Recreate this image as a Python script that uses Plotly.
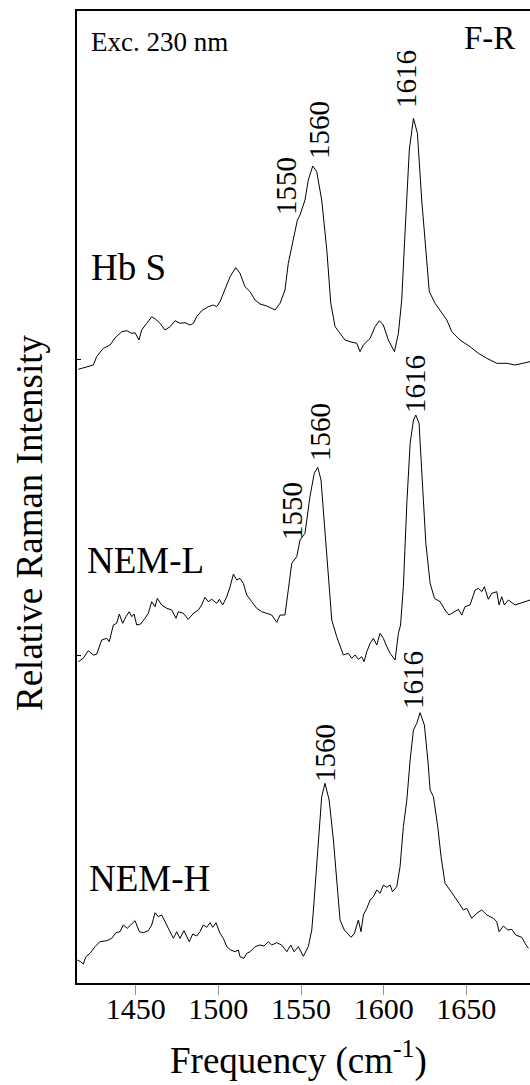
import plotly.graph_objects as go

# ---------------- data ----------------
freq_hbs = [1415.3, 1420.4, 1424.4, 1426.4, 1430.4, 1434.5, 1437.5, 1441.5, 1444.6, 1447.6,
            1449.6, 1452.0, 1453.6, 1456.7, 1459.7, 1462.7, 1464.7, 1467.7, 1470.8, 1473.8,
            1476.8, 1479.8, 1482.9, 1484.9, 1486.9, 1489.9, 1493.9, 1497.0, 1499.0, 1501.0,
            1504.0, 1507.1, 1510.5, 1513.1, 1516.1, 1519.2, 1522.2, 1525.2, 1529.3, 1534.3,
            1537.3, 1540.3, 1542.3, 1545.4, 1547.8, 1549.4, 1552.4, 1554.4, 1557.1, 1559.5,
            1562.5, 1565.6, 1568.0, 1570.6, 1573.6, 1576.6, 1579.7, 1583.7, 1585.7, 1587.7,
            1591.8, 1594.8, 1597.4, 1599.8, 1602.8, 1606.5, 1608.9, 1610.9, 1612.9, 1615.5,
            1618.0, 1620.4, 1623.0, 1626.1, 1627.6, 1631.1, 1635.1, 1638.2, 1641.2, 1646.2,
            1652.2, 1657.3, 1662.4, 1668.4, 1674.5, 1679.5, 1688.5]
int_hbs = [0.7, 3.3, 5.0, 13.3, 21.7, 25.0, 32.0, 38.3, 39.3, 36.7,
           37.3, 30.0, 40.0, 46.7, 53.3, 50.0, 46.7, 40.0, 43.3, 49.3,
           46.7, 47.3, 45.0, 46.7, 53.3, 59.3, 63.3, 65.0, 63.3, 68.3,
           80.0, 93.3, 102.3, 96.7, 83.3, 78.3, 70.0, 66.0, 64.0, 60.0,
           66.7, 80.0, 106.7, 130.0, 150.0, 155.0, 170.0, 190.0, 204.0, 198.3,
           170.0, 120.0, 66.7, 43.3, 36.7, 30.0, 28.3, 26.7, 18.3, 25.0,
           31.7, 43.3, 49.3, 45.0, 30.0, 18.3, 36.7, 70.0, 136.7, 220.0,
           251.7, 236.7, 170.0, 103.3, 78.3, 66.7, 56.7, 50.0, 38.3, 30.0,
           23.3, 16.7, 11.7, 6.7, 6.7, 5.0, 8.3]

freq_neml = [1415.3, 1418.3, 1421.3, 1424.4, 1426.4, 1429.4, 1432.5, 1434.0, 1436.5, 1438.5,
             1440.1, 1442.1, 1444.1, 1446.1, 1447.6, 1449.0, 1450.6, 1453.0, 1455.6, 1457.6,
             1459.7, 1461.7, 1463.1, 1465.7, 1468.8, 1471.8, 1474.4, 1475.8, 1478.8, 1481.8,
             1484.9, 1487.9, 1489.9, 1491.9, 1493.9, 1496.0, 1499.0, 1500.6, 1502.6, 1505.1,
             1507.1, 1509.1, 1511.1, 1513.1, 1515.1, 1517.2, 1520.2, 1523.2, 1526.2, 1529.3,
             1532.3, 1535.3, 1537.3, 1540.3, 1542.3, 1544.4, 1547.4, 1549.4, 1552.4, 1555.4,
             1558.0, 1560.1, 1562.1, 1564.5, 1566.5, 1568.6, 1571.6, 1575.6, 1578.6, 1580.7,
             1582.7, 1584.7, 1586.7, 1588.1, 1589.8, 1591.8, 1593.8, 1595.8, 1597.8, 1599.8,
             1601.9, 1603.9, 1606.9, 1608.9, 1610.2, 1611.9, 1614.0, 1616.0, 1618.0, 1619.4,
             1621.4, 1623.0, 1625.5, 1628.1, 1630.7, 1634.1, 1637.1, 1639.5, 1642.7, 1645.2,
             1647.2, 1649.2, 1652.2, 1655.3, 1657.3, 1659.3, 1660.9, 1663.3, 1665.4, 1668.4,
             1669.8, 1671.4, 1673.0, 1675.4, 1679.5, 1688.5]
int_neml = [0.3, 3.7, 11.3, 7.0, 7.7, 22.0, 23.7, 20.3, 37.0, 38.7,
            48.0, 38.7, 45.3, 50.3, 45.3, 48.0, 37.0, 38.0, 43.7, 48.7,
            60.3, 55.3, 63.7, 57.0, 53.7, 52.0, 43.7, 50.3, 48.7, 42.7,
            48.7, 52.0, 57.0, 64.7, 60.3, 62.7, 58.7, 62.7, 57.0, 65.3,
            75.3, 88.0, 82.0, 83.7, 78.7, 67.0, 60.3, 53.7, 50.3, 48.7,
            47.0, 39.7, 47.0, 47.0, 72.0, 98.7, 105.3, 122.0, 128.7, 165.3,
            188.7, 194.7, 182.0, 132.0, 85.3, 42.0, 25.3, 7.0, 8.7, 3.7,
            7.0, 2.7, 5.3, 0.3, 10.3, 18.7, 23.7, 17.0, 28.7, 23.7,
            15.3, 8.7, 2.0, 28.7, 37.0, 75.3, 158.7, 218.7, 242.0, 247.0,
            238.7, 192.0, 118.7, 78.7, 63.7, 60.3, 52.0, 47.0, 50.3, 52.7,
            47.0, 55.3, 57.0, 72.0, 73.7, 70.3, 75.3, 62.7, 68.7, 70.3,
            57.0, 65.3, 57.0, 62.0, 57.0, 62.0]

freq_nemh = [1414.7, 1416.7, 1418.3, 1419.9, 1422.4, 1425.4, 1428.4, 1432.5, 1435.5, 1438.1,
             1440.5, 1442.5, 1444.9, 1447.6, 1449.6, 1452.2, 1454.6, 1457.6, 1459.7, 1461.7,
             1463.7, 1465.7, 1468.3, 1470.8, 1472.8, 1474.8, 1476.8, 1479.2, 1480.9, 1482.4,
             1484.5, 1486.9, 1488.9, 1490.9, 1493.0, 1495.0, 1496.6, 1498.6, 1501.0, 1503.0,
             1505.1, 1507.5, 1510.1, 1512.1, 1513.1, 1515.5, 1517.2, 1519.2, 1522.2, 1525.2,
             1527.6, 1530.2, 1532.3, 1535.3, 1538.3, 1541.4, 1543.8, 1545.8, 1548.4, 1551.4,
             1554.4, 1556.5, 1557.5, 1560.5, 1562.5, 1564.5, 1567.0, 1569.6, 1571.6, 1573.6,
             1576.2, 1578.2, 1580.3, 1582.3, 1584.7, 1586.3, 1587.7, 1589.8, 1591.8, 1593.8,
             1595.8, 1597.8, 1599.8, 1601.9, 1603.9, 1605.3, 1607.9, 1609.9, 1611.9, 1614.0,
             1616.0, 1618.0, 1620.0, 1622.0, 1624.6, 1626.7, 1628.1, 1630.1, 1632.7, 1634.7,
             1637.1, 1640.1, 1643.2, 1645.6, 1648.2, 1650.2, 1653.3, 1656.3, 1659.3, 1662.4,
             1666.4, 1668.4, 1669.8, 1672.4, 1675.1, 1677.5, 1679.9, 1681.9, 1683.5, 1685.5,
             1687.5]
int_nemh = [2.0, 0.3, -2.0, 5.3, 8.7, 15.3, 20.3, 21.3, 23.7, 29.3,
            30.3, 37.0, 33.7, 38.7, 41.3, 30.3, 29.3, 31.3, 37.0, 49.3,
            45.3, 47.0, 38.7, 30.3, 23.7, 30.3, 23.7, 31.3, 26.0, 20.3,
            28.0, 26.0, 30.3, 37.0, 34.7, 39.3, 34.7, 39.3, 28.7, 23.7,
            15.3, 12.0, 10.3, 12.0, 5.3, 3.7, 8.7, 10.3, 15.3, 17.0,
            16.0, 20.3, 17.0, 19.3, 17.0, 10.3, 17.0, 10.3, 15.3, 5.7,
            15.3, 32.0, 52.0, 122.0, 165.3, 178.7, 162.0, 122.0, 85.3, 42.0,
            32.0, 28.7, 24.7, 28.7, 42.0, 30.3, 47.0, 53.7, 62.0, 65.3,
            72.0, 68.7, 77.0, 74.7, 77.0, 70.3, 75.3, 95.3, 135.3, 162.0,
            202.0, 232.0, 238.7, 249.3, 237.0, 202.0, 172.0, 165.3, 135.3, 105.3,
            78.7, 72.0, 63.7, 58.7, 52.0, 53.7, 43.7, 48.7, 52.0, 47.0,
            43.7, 40.3, 30.3, 36.0, 32.0, 32.7, 27.0, 25.3, 24.7, 18.7,
            13.7]

sample_names = ["Hb S", "NEM-L", "NEM-H"]
offsets = [613, 321, 21]          # vertical stacking offsets (arbitrary units)
x_ticks = [1450, 1500, 1550, 1600, 1650]
x_range = [1414.5, 1688.5]
y_range = [0, 972]

peak_labels = [
    ("Hb S", ["1550", "1560", "1616"]),
    ("NEM-L", ["1550", "1560", "1616"]),
    ("NEM-H", ["1560", "1616"]),
]

# ---------------- layout helpers ----------------
W, H = 530, 1085
ML, MR, MT, MB = 77, 0, 11, 102
PW, PH = W - ML - MR, H - MT - MB


def px(xp):
    return (xp - ML) / PW


def py(yp):
    return (H - MB - yp) / PH


FONT = "Liberation Serif"

fig = go.Figure()
series = [(freq_hbs, int_hbs), (freq_neml, int_neml), (freq_nemh, int_nemh)]
for (fx, iy), off, name in zip(series, offsets, sample_names):
    fig.add_trace(go.Scatter(
        x=fx, y=[v + off for v in iy], mode="lines", name=name,
        line=dict(color="black", width=1), showlegend=False, hoverinfo="skip"))

ann = []
# sample labels
name_pos = {"Hb S": (89, 267), "NEM-L": (85, 560), "NEM-H": (87, 878)}
for n in sample_names:
    xp, yp = name_pos[n]
    ann.append(dict(text=n, x=px(xp), y=py(yp), xref="paper", yref="paper",
                    xanchor="left", yanchor="middle", showarrow=False,
                    font=dict(family=FONT, size=37, color="black")))

# peak labels (rotated)
peak_pos = {
    ("Hb S", "1550"): (286, 186), ("Hb S", "1560"): (319, 130), ("Hb S", "1616"): (406, 79),
    ("NEM-L", "1550"): (292, 511), ("NEM-L", "1560"): (320, 432), ("NEM-L", "1616"): (415, 384),
    ("NEM-H", "1560"): (325, 753), ("NEM-H", "1616"): (413, 680),
}
for n, labs in peak_labels:
    for lab in labs:
        xp, yp = peak_pos[(n, lab)]
        ann.append(dict(text=lab, x=px(xp), y=py(yp), xref="paper", yref="paper",
                        xanchor="center", yanchor="middle", textangle=-90, showarrow=False,
                        font=dict(family=FONT, size=29, color="black")))

ann.append(dict(text="Exc. 230 nm", x=px(89), y=py(42), xref="paper", yref="paper",
                xanchor="left", yanchor="middle", showarrow=False,
                font=dict(family=FONT, size=27, color="black")))
ann.append(dict(text="F-R", x=px(462), y=py(38), xref="paper", yref="paper",
                xanchor="left", yanchor="middle", showarrow=False,
                font=dict(family=FONT, size=33, color="black")))
# axis titles
ann.append(dict(text="Frequency (cm<sup>-1</sup>)", x=px(298), y=py(1058), xref="paper", yref="paper",
                xanchor="center", yanchor="middle", showarrow=False,
                font=dict(family=FONT, size=37, color="black")))
ann.append(dict(text="Relative Raman Intensity", x=px(29), y=py(523), xref="paper", yref="paper",
                xanchor="center", yanchor="middle", textangle=-90, showarrow=False,
                font=dict(family=FONT, size=37, color="black")))

fig.update_layout(
    width=W, height=H,
    margin=dict(l=ML, r=MR, t=MT, b=MB, pad=0),
    paper_bgcolor="white", plot_bgcolor="white",
    annotations=ann,
    xaxis=dict(range=x_range, tickvals=x_ticks, ticks="outside", ticklen=10,
               tickcolor="#909090", tickwidth=1, showline=True, linecolor="black",
               linewidth=2, mirror=True, showgrid=False, zeroline=False,
               ticklabelstandoff=-12,
               tickfont=dict(family=FONT, size=30, color="black")),
    yaxis=dict(range=y_range, tickvals=[328, 624], ticks="inside",
               ticklen=4, tickcolor="black", tickwidth=1, showline=True, linecolor="black",
               linewidth=2, mirror=False, showgrid=False, zeroline=False,
               showticklabels=False),
)

fig.write_html("out.html")
